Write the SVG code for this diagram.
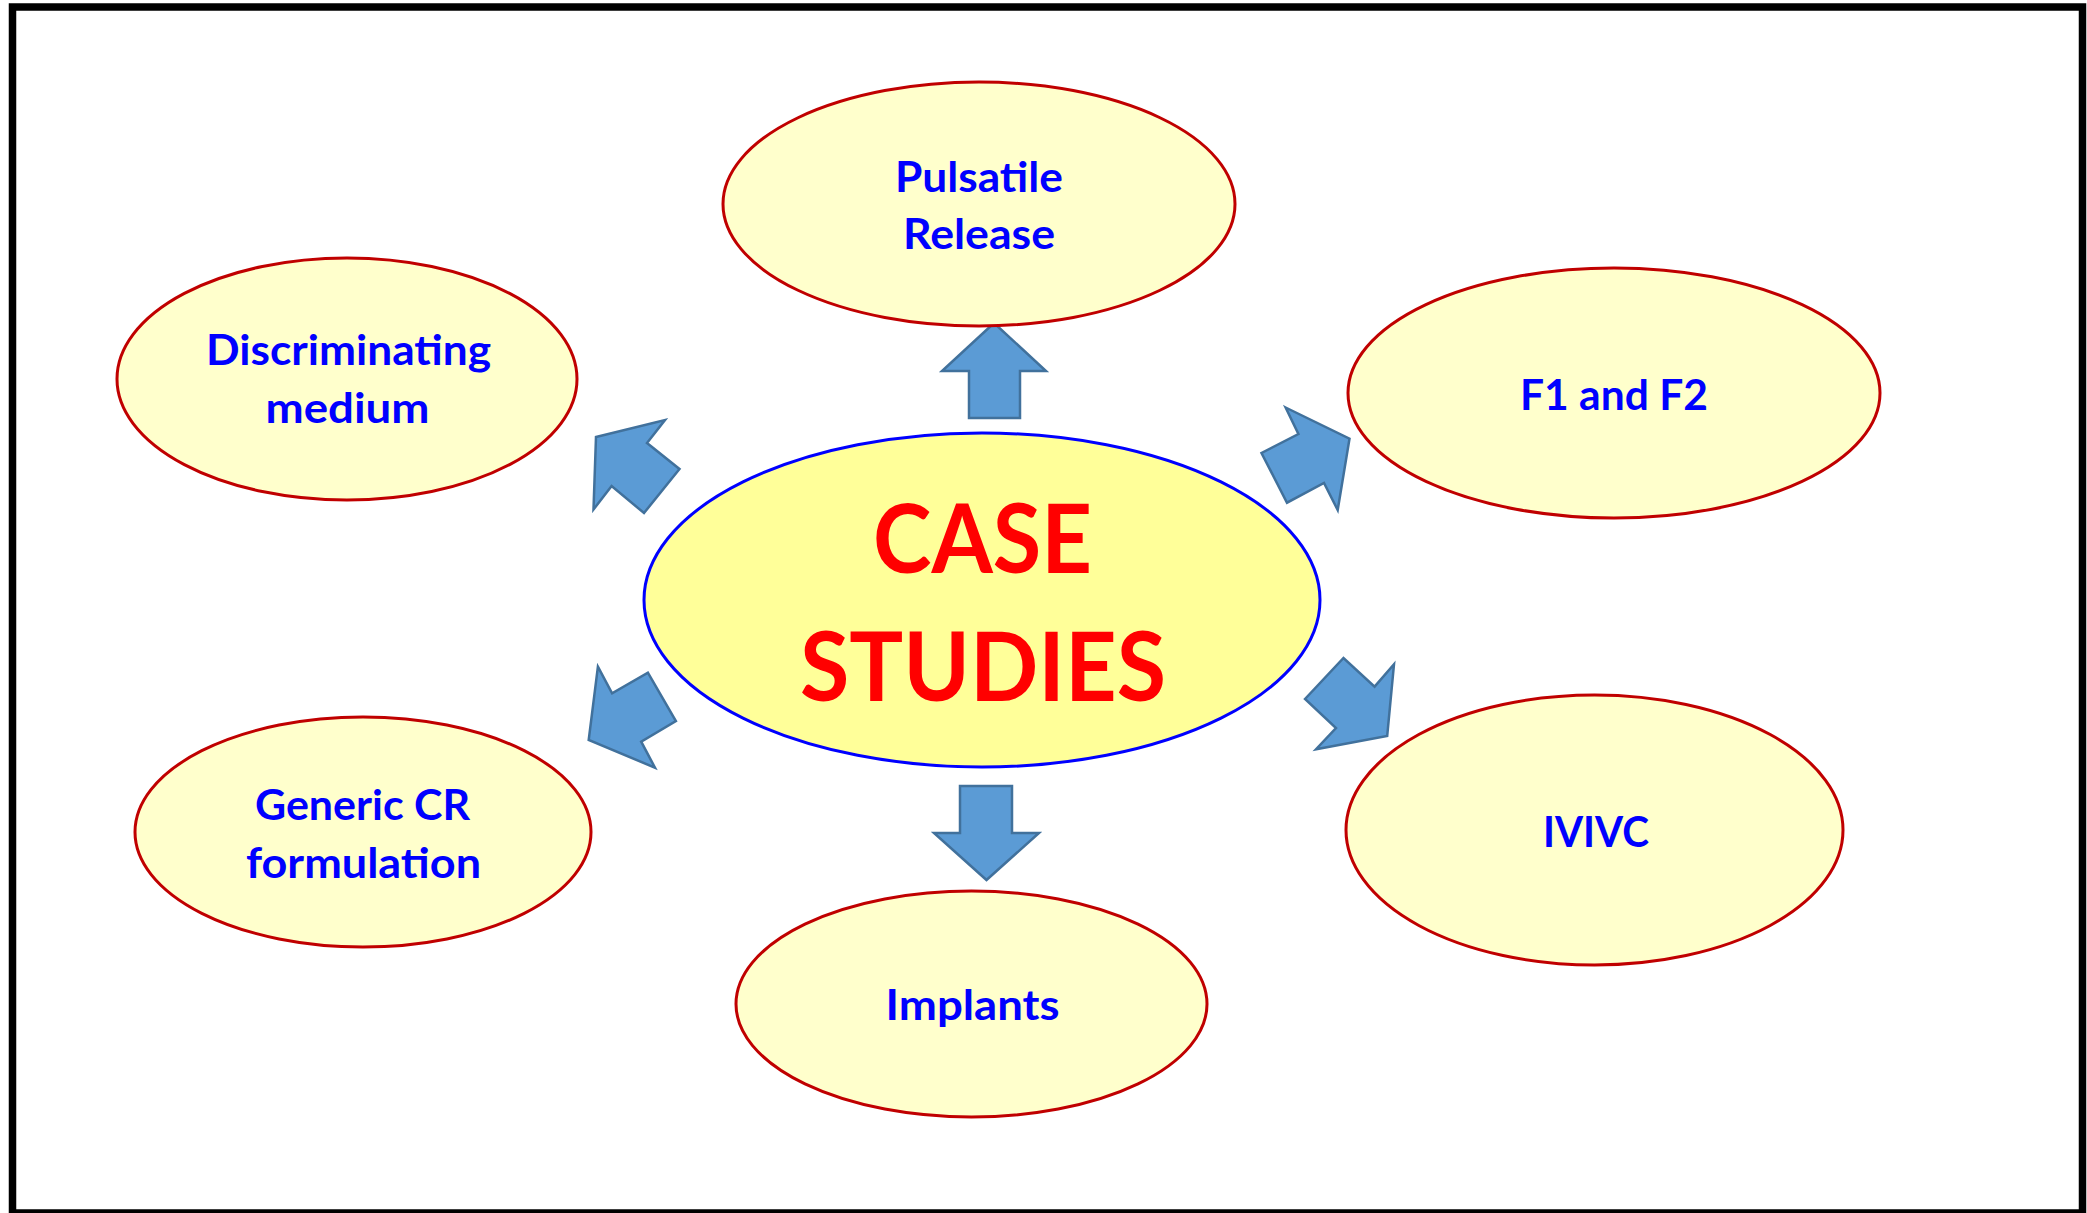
<svg xmlns="http://www.w3.org/2000/svg" width="2087" height="1213" viewBox="0 0 2087 1213">
<style>
.node ellipse{fill:#FFFFCC;stroke:#C00000;stroke-width:3}
#center ellipse{fill:#FFFF99;stroke:#0000FF;stroke-width:3}
text{font-family:Lato,"Open Sans","Liberation Sans",sans-serif;font-weight:700;text-anchor:middle}
.lbl{font-size:42px;fill:#0000FF}
.big{font-size:95px;fill:#FF0000}
#connectors polygon{fill:#5B9BD5;stroke:#41719C;stroke-width:2.5;stroke-linejoin:miter}
</style>
<rect x="0" y="0" width="2087" height="1213" fill="#FFFFFF"/>
<rect x="12.5" y="7" width="2070" height="1206" fill="none" stroke="#000000" stroke-width="7.5"/>
<g id="connectors">
<polygon points="994,323 1046,371 1020,371 1020,418 969,418 969,371 942,371"/>
<polygon points="960,786 1012,786 1012,833 1039,833 986.5,880 934,833 960,833"/>
<polygon points="596,437 665,420 647,443 679.5,469 644,513 611.6,486 593.5,509.5"/>
<polygon points="1285.6,407.5 1349.5,438.7 1337.7,510 1324,483 1287,502.7 1261.5,453 1298.4,434"/>
<polygon points="1305,699 1343.5,658 1374.6,686.6 1394,664.3 1387.2,736 1316,749.2 1336,728"/>
<polygon points="597.9,666.7 612.1,693.3 647.9,672.7 675.9,721 641.2,741.7 655,767.7 588.7,740"/>
</g>
<g id="center">
<ellipse cx="982" cy="600" rx="338" ry="167"/>
<text class="big" x="982.5" y="573" textLength="219" lengthAdjust="spacingAndGlyphs">CASE</text>
<text class="big" x="983" y="701" textLength="366" lengthAdjust="spacingAndGlyphs">STUDIES</text>
</g>
<g id="pulsatile" class="node">
<ellipse cx="979" cy="204" rx="256" ry="122"/>
<text class="lbl" x="979" y="192" textLength="168" lengthAdjust="spacingAndGlyphs">Pulsatile</text>
<text class="lbl" x="979" y="249" textLength="152" lengthAdjust="spacingAndGlyphs">Release</text>
</g>
<g id="discriminating" class="node">
<ellipse cx="347" cy="379" rx="230" ry="121"/>
<text class="lbl" x="348.5" y="365" textLength="285" lengthAdjust="spacingAndGlyphs">Discriminating</text>
<text class="lbl" x="347.5" y="423" textLength="164" lengthAdjust="spacingAndGlyphs">medium</text>
</g>
<g id="f1f2" class="node">
<ellipse cx="1614" cy="393" rx="266" ry="125"/>
<text class="lbl" x="1614" y="410" textLength="188" lengthAdjust="spacingAndGlyphs">F1 and F2</text>
</g>
<g id="ivivc" class="node">
<ellipse cx="1594.5" cy="830" rx="248.5" ry="135"/>
<text class="lbl" x="1596" y="847" textLength="106" lengthAdjust="spacingAndGlyphs">IVIVC</text>
</g>
<g id="implants" class="node">
<ellipse cx="971.5" cy="1004" rx="235.5" ry="113"/>
<text class="lbl" x="972.6" y="1020" textLength="174" lengthAdjust="spacingAndGlyphs">Implants</text>
</g>
<g id="generic" class="node">
<ellipse cx="363" cy="832" rx="228" ry="115"/>
<text class="lbl" x="362.5" y="820" textLength="215" lengthAdjust="spacingAndGlyphs">Generic CR</text>
<text class="lbl" x="363.5" y="878" textLength="235" lengthAdjust="spacingAndGlyphs">formulation</text>
</g>
</svg>
